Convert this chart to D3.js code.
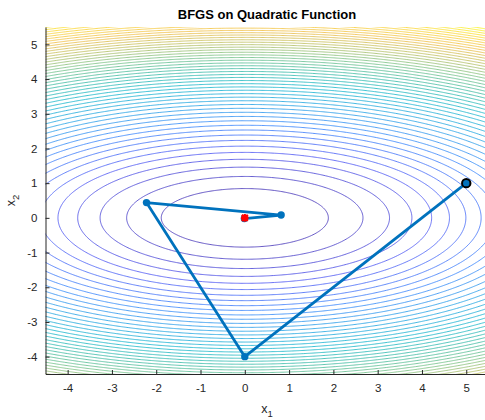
<!DOCTYPE html>
<html>
<head>
<meta charset="utf-8">
<script src="https://cdn.jsdelivr.net/npm/d3@7"></script>
<style>
  body { margin: 0; background: #fff; }
  svg { font-family: "Liberation Sans", Arial, Helvetica, sans-serif; }
  .tick text { fill: #262626; }
</style>
</head>
<body>
<div id="chart"></div>
<script>
// axis ticks
var xTicks = [-4, -3, -2, -1, 0, 1, 2, 3, 4, 5];
var yTicks = [-4, -3, -2, -1, 0, 1, 2, 3, 4, 5];

// BFGS iterates
var pathX = [5, 0, -2.22, 0.82, -0.01];
var pathY = [1, -4, 0.44, 0.08, -0.02];
var optimum = [0, 0];

// f(x) = 0.5*x1^2 + 2.5*x2^2, 50 contour levels
var nLevels = 50;
function f(a, b) { return 0.5 * a * a + 2.5 * b * b; }
var zMax = f(5.5, 5.5);
var levels = d3.range(1, nLevels + 1).map(function(i) { return i * zMax / (nLevels + 1); });

// parula colormap stops
var parulaStops = [
  [0.2422, 0.1504, 0.6603], [0.2788, 0.3176, 0.9591], [0.1802, 0.5070, 0.9892],
  [0.0985, 0.6260, 0.8866], [0.0424, 0.7060, 0.7946], [0.1986, 0.7214, 0.6310],
  [0.4420, 0.7481, 0.5033], [0.7236, 0.7361, 0.3472], [0.9393, 0.7330, 0.2446],
  [0.9856, 0.8354, 0.1740], [0.9769, 0.9839, 0.0805]
];
var parula = d3.scaleLinear()
    .domain(d3.range(parulaStops.length).map(function(i) { return i / (parulaStops.length - 1); }))
    .range(parulaStops.map(function(c) { return d3.rgb(c[0] * 255, c[1] * 255, c[2] * 255); }))
    .interpolate(d3.interpolateRgb);

var W = 485, H = 420;
var margin = {top: 27, right: -3.4, bottom: 46, left: 45.5},
    width = W - margin.left - margin.right,
    height = H - margin.top - margin.bottom;

var svg = d3.select("#chart").append("svg")
    .attr("width", W)
    .attr("height", H);

var g = svg.append("g")
    .attr("transform", "translate(" + margin.left + "," + margin.top + ")");

var x = d3.scaleLinear().domain([-4.5, 5.5]).range([0, width]);
var y = d3.scaleLinear().domain([-4.5, 5.5]).range([height, 0]);

g.append("clipPath").attr("id", "clip")
  .append("rect").attr("width", width).attr("height", height);

// sample the function on a grid larger than the view so border rings fall outside the clip
var gx0 = -6.5, gy0 = -6.5, step = 0.025;
var n = Math.round(14 / step);
var values = new Float64Array(n * n);
for (var j = 0; j < n; j++) {
  for (var i = 0; i < n; i++) {
    values[j * n + i] = f(gx0 + (i + 0.5) * step, gy0 + (j + 0.5) * step);
  }
}

var contours = d3.contours().size([n, n]).thresholds(levels)(values);

contours.forEach(function(c) {
  c.coordinates = c.coordinates.map(function(poly) {
    return poly.map(function(ring) {
      return ring.map(function(p) { return [x(gx0 + p[0] * step), y(gy0 + p[1] * step)]; });
    });
  });
});

var geo = d3.geoPath();

g.append("g")
    .attr("clip-path", "url(#clip)")
  .selectAll("path")
  .data(contours)
  .enter().append("path")
    .attr("d", geo)
    .attr("fill", "none")
    .attr("stroke", function(d) { return parula(d.value / zMax); })
    .attr("stroke-width", 0.8);

// axes (plain hyphen minus like the original)
var fmt = function(d) { return String(d); };

var xAxis = g.append("g")
    .attr("class", "axis")
    .attr("transform", "translate(0," + height + ")")
    .call(d3.axisBottom(x).tickValues(xTicks).tickFormat(fmt).tickSizeInner(-4).tickSizeOuter(0).tickPadding(10));

var yAxis = g.append("g")
    .attr("class", "axis")
    .call(d3.axisLeft(y).tickValues(yTicks).tickFormat(fmt).tickSizeInner(-4).tickSizeOuter(0).tickPadding(8));

[xAxis, yAxis].forEach(function(a) {
  a.select(".domain").attr("stroke", "#262626").attr("stroke-width", 1);
  a.selectAll(".tick line").attr("stroke", "#262626");
  a.selectAll(".tick text").attr("font-size", 11.5).attr("font-family", null);
});

// BFGS path
var pts = pathX.map(function(v, i) { return [v, pathY[i]]; });

g.append("path")
    .attr("d", d3.line().x(function(d) { return x(d[0]); }).y(function(d) { return y(d[1]); })(pts))
    .attr("fill", "none")
    .attr("stroke", "#0072BD")
    .attr("stroke-width", 2.8)
    .attr("stroke-linejoin", "round");

g.selectAll(".pt")
  .data(pts)
  .enter().append("circle")
    .attr("class", "pt")
    .attr("cx", function(d) { return x(d[0]); })
    .attr("cy", function(d) { return y(d[1]); })
    .attr("r", 3.7)
    .attr("fill", "#0072BD");

// start point
g.append("circle")
    .attr("cx", x(pts[0][0]))
    .attr("cy", y(pts[0][1]))
    .attr("r", 4.2)
    .attr("fill", "#0072BD")
    .attr("stroke", "#000")
    .attr("stroke-width", 2);

// optimum (asterisk)
g.append("path")
    .attr("transform", "translate(" + x(optimum[0]) + "," + y(optimum[1]) + ")")
    .attr("d", "M-3,-3L3,3M-3,3L3,-3M-3.8,0L3.8,0M0,-3.8L0,3.8")
    .attr("stroke", "#ff0000")
    .attr("stroke-width", 2.2)
    .attr("fill", "none");

// labels
svg.append("text")
    .attr("x", margin.left + width / 2)
    .attr("y", 19)
    .attr("text-anchor", "middle")
    .attr("font-weight", "bold")
    .attr("font-size", 13)
    .attr("fill", "#000")
    .text("BFGS on Quadratic Function");

var xl = svg.append("text")
    .attr("x", margin.left + width / 2)
    .attr("y", 413)
    .attr("text-anchor", "middle")
    .attr("font-size", 12.5)
    .attr("fill", "#262626");
xl.append("tspan").text("x");
xl.append("tspan").attr("font-size", 9.5).attr("dy", 4).text("1");

var yl = svg.append("text")
    .attr("transform", "translate(15," + (margin.top + height / 2) + ") rotate(-90)")
    .attr("text-anchor", "middle")
    .attr("font-size", 12.5)
    .attr("fill", "#262626");
yl.append("tspan").text("x");
yl.append("tspan").attr("font-size", 9.5).attr("dy", 4).text("2");
</script>
</body>
</html>
